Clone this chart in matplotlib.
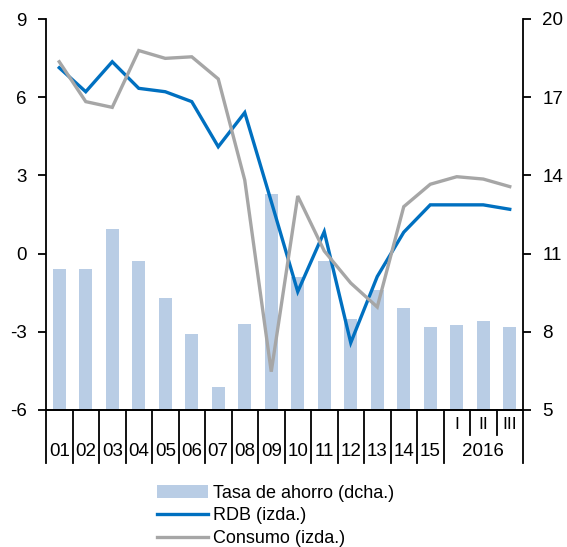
import numpy as np
import matplotlib.pyplot as plt
import matplotlib.transforms as mtransforms
from matplotlib.patches import Patch
from matplotlib.lines import Line2D

plt.rcParams['font.family'] = ['Liberation Sans', 'DejaVu Sans']
plt.rcParams['axes.unicode_minus'] = False

years = ["01", "02", "03", "04", "05", "06", "07", "08", "09", "10", "11", "12", "13", "14", "15"]
quarters = ["I", "II", "III"]
year_2016 = "2016"

# Tasa de ahorro (right axis)
ahorro = [10.4, 10.4, 11.95, 10.7, 9.3, 7.9, 5.9, 8.3, 13.3, 10.1, 10.7, 8.5, 9.6, 8.9, 8.2, 8.25, 8.4, 8.2]
# RDB and Consumo (left axis)
rdb = [7.13, 6.21, 7.36, 6.34, 6.21, 5.83, 4.10, 5.41, 2.0, -1.46, 0.84, -3.42, -0.88, 0.82, 1.87, 1.87, 1.87, 1.70]
consumo = [7.36, 5.83, 5.61, 7.79, 7.49, 7.55, 6.70, 2.82, -4.53, 2.21, 0.1, -1.13, -2.05, 1.8, 2.66, 2.95, 2.86, 2.57]

c_bar = "#B9CDE5"
c_rdb = "#0070C0"
c_con = "#A6A6A6"
fs = 13.5

fig = plt.figure(figsize=(5.67, 5.47), dpi=100)
ax = fig.add_axes([46/567, 1-410/547, 477/567, 391/547])
ax2 = ax.twinx()

x = np.arange(len(ahorro))
ax2.bar(x, ahorro, width=0.5, color=c_bar, bottom=0)
ax.plot(x, rdb, color=c_rdb, lw=2.4, solid_joinstyle='miter')
ax.plot(x, consumo, color=c_con, lw=2.4, solid_joinstyle='miter')

ax.set_zorder(ax2.get_zorder() + 1)
ax.patch.set_visible(False)

ax.set_xlim(-0.5, len(x) - 0.5)
ax.set_ylim(-6, 9)
ax.set_yticks([-6, -3, 0, 3, 6, 9])
ax2.set_ylim(5, 20)
ax2.set_yticks([5, 8, 11, 14, 17, 20])
ax.set_xticks([])

for a in (ax, ax2):
    a.spines['top'].set_visible(False)
    for s in a.spines.values():
        s.set_linewidth(1.3)
    a.tick_params(axis='y', direction='out', length=6, width=1.3, labelsize=fs, pad=8)
ax.spines['right'].set_visible(False)
ax2.spines['left'].set_visible(False)

# category separators and labels below the axis
trans = mtransforms.blended_transform_factory(ax.transData, ax.transAxes)
long_b = -0.1355
short_b = -0.064
for i in range(len(x) + 1):
    xb = i - 0.5
    if i in (16, 17):
        yb = short_b
    else:
        yb = long_b
    ax.plot([xb, xb], [0, yb], color="black", lw=1.3, transform=trans, clip_on=False)

for i, lab in enumerate(years):
    ax.text(i, -0.107, lab, transform=trans, ha='center', va='center', fontsize=fs)
for j, lab in enumerate(quarters):
    ax.text(15 + j, -0.038, lab, transform=trans, ha='center', va='center', fontsize=fs - 1)
ax.text(16, -0.107, year_2016, transform=trans, ha='center', va='center', fontsize=fs)

handles = [Patch(facecolor=c_bar, edgecolor='none'),
           Line2D([], [], color=c_rdb, lw=2.4),
           Line2D([], [], color=c_con, lw=2.4)]
labels = ["Tasa de ahorro (dcha.)", "RDB (izda.)", "Consumo (izda.)"]
fig.legend(handles, labels, loc='upper left', bbox_to_anchor=(157/567, 1-485/547),
           frameon=False, fontsize=13, borderpad=0, borderaxespad=0,
           handlelength=2.8, handleheight=0.7, handletextpad=0.3, labelspacing=0.3)

fig.savefig("out.png", dpi=100)
